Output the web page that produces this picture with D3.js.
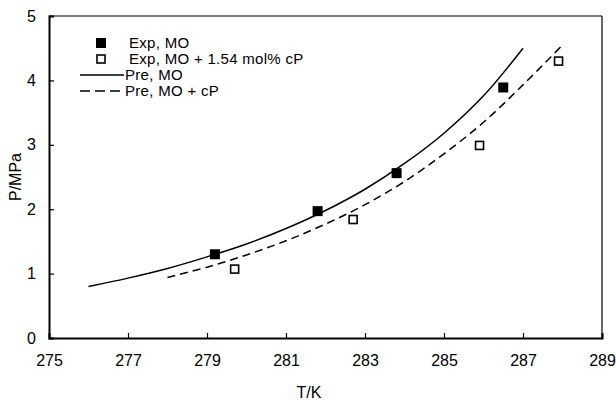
<!DOCTYPE html>
<html>
<head>
<meta charset="utf-8">
<script src="https://cdn.jsdelivr.net/npm/d3@7"></script>
<style>
  body { margin: 0; background: #fff; }
  svg { font-family: "Liberation Sans", Arial, sans-serif; }
</style>
</head>
<body>
<svg class="chart" width="616" height="400"></svg>
<script>
// experimental points
var expT = [279.2, 281.8, 283.8, 286.5];
var expP = [1.30, 1.97, 2.56, 3.89];
var expCpT = [279.7, 282.7, 285.9, 287.9];
var expCpP = [1.07, 1.84, 2.99, 4.30];

// predicted curves
var preT = [276, 277, 278, 279, 280, 281, 282, 283, 284, 285, 286, 287];
var preP = [0.80, 0.93, 1.08, 1.26, 1.46, 1.70, 1.98, 2.31, 2.71, 3.18, 3.76, 4.50];
var preCpT = [278, 279, 280, 281, 282, 283, 284, 285, 286, 287, 288];
var preCpP = [0.94, 1.10, 1.29, 1.51, 1.77, 2.07, 2.43, 2.86, 3.35, 3.93, 4.55];

var xTicks = [275, 277, 279, 281, 283, 285, 287, 289];
var yTicks = [0, 1, 2, 3, 4, 5];
var legendLabels = ["Exp, MO", "Exp, MO + 1.54 mol% cP", "Pre, MO", "Pre, MO + cP"];

var margin = {top: 16, right: 14, bottom: 62, left: 49};
var width = 616 - margin.left - margin.right;
var height = 400 - margin.top - margin.bottom;

var x = d3.scaleLinear().domain([275, 289]).range([0, width]);
var y = d3.scaleLinear().domain([0, 5]).range([height, 0]);

var svg = d3.select('.chart');
var main = svg.append('g')
    .attr('transform', 'translate(' + margin.left + ',' + margin.top + ')');

// frame: top and right thinner
main.append('line').attr('x1', 0).attr('x2', width).attr('y1', 0).attr('y2', 0)
    .attr('stroke', '#000').attr('stroke-width', 1.2);
main.append('line').attr('x1', width).attr('x2', width).attr('y1', 0).attr('y2', height)
    .attr('stroke', '#000').attr('stroke-width', 1.2);

// x axis, ticks pointing in
var xAxis = d3.axisBottom(x).tickValues(xTicks).tickSize(-5).tickPadding(17).tickFormat(d3.format('d'));
var gx = main.append('g')
    .attr('transform', 'translate(0,' + height + ')')
    .call(xAxis);
gx.select('.domain').attr('stroke-width', 2);
gx.selectAll('.tick line').attr('stroke-width', 1.2);
gx.selectAll('text').attr('font-size', 16).attr('fill', '#000');

// y axis
var yAxis = d3.axisLeft(y).tickValues(yTicks).tickSize(-5).tickPadding(13).tickFormat(d3.format('d'));
var gy = main.append('g').call(yAxis);
gy.select('.domain').attr('stroke-width', 2);
gy.selectAll('.tick line').attr('stroke-width', 1.2);
gy.selectAll('text').attr('font-size', 16).attr('fill', '#000');

// axis titles
svg.append('text')
    .attr('x', 309).attr('y', 398)
    .attr('text-anchor', 'middle')
    .attr('font-size', 16)
    .text('T/K');
svg.append('text')
    .attr('transform', 'translate(21,177) rotate(-90)')
    .attr('text-anchor', 'middle')
    .attr('font-size', 16)
    .text('P/MPa');

// curves
var line = d3.line()
    .x(function (d) { return x(d[0]); })
    .y(function (d) { return y(d[1]); })
    .curve(d3.curveCatmullRom);

main.append('path')
    .datum(d3.zip(preT, preP))
    .attr('d', line)
    .attr('fill', 'none')
    .attr('stroke', '#000')
    .attr('stroke-width', 1.5);

main.append('path')
    .datum(d3.zip(preCpT, preCpP))
    .attr('d', line)
    .attr('fill', 'none')
    .attr('stroke', '#000')
    .attr('stroke-width', 1.5)
    .attr('stroke-dasharray', '8,5');

// markers
main.selectAll('.exp')
    .data(d3.zip(expT, expP))
    .enter().append('rect')
    .attr('x', function (d) { return x(d[0]) - 5; })
    .attr('y', function (d) { return y(d[1]) - 5; })
    .attr('width', 10).attr('height', 10)
    .attr('fill', '#000');

main.selectAll('.expcp')
    .data(d3.zip(expCpT, expCpP))
    .enter().append('rect')
    .attr('x', function (d) { return x(d[0]) - 4; })
    .attr('y', function (d) { return y(d[1]) - 4; })
    .attr('width', 8).attr('height', 8)
    .attr('fill', '#fff')
    .attr('stroke', '#000')
    .attr('stroke-width', 1.6);

// legend
var rowsY = [43, 59, 75, 91];
var leg = svg.append('g');
leg.append('rect').attr('x', 96).attr('y', rowsY[0] - 5).attr('width', 10).attr('height', 10).attr('fill', '#000');
leg.append('rect').attr('x', 97).attr('y', rowsY[1] - 4).attr('width', 8).attr('height', 8)
    .attr('fill', '#fff').attr('stroke', '#000').attr('stroke-width', 1.6);
leg.append('line').attr('x1', 80).attr('x2', 124).attr('y1', rowsY[2]).attr('y2', rowsY[2])
    .attr('stroke', '#000').attr('stroke-width', 1.5);
leg.append('line').attr('x1', 80).attr('x2', 120).attr('y1', rowsY[3]).attr('y2', rowsY[3])
    .attr('stroke', '#000').attr('stroke-width', 1.5).attr('stroke-dasharray', '10,5');

leg.selectAll('.lab')
    .data(legendLabels)
    .enter().append('text')
    .attr('x', function (d, i) { return i < 2 ? 129 : 125; })
    .attr('y', function (d, i) { return rowsY[i] + 5; })
    .attr('font-size', 15)
    .attr('letter-spacing', 0.3)
    .text(function (d) { return d; });
</script>
</body>
</html>
